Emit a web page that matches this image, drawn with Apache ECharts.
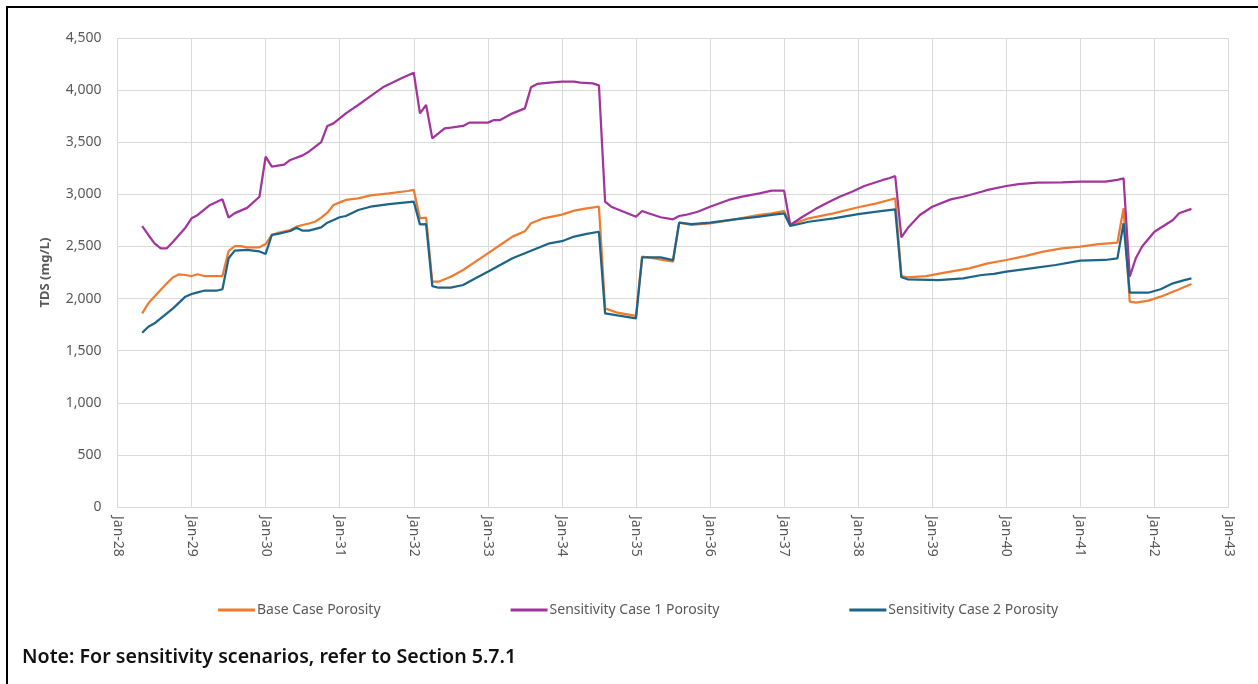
<!DOCTYPE html>
<html>
<head>
<meta charset="utf-8">
<script src="https://cdn.jsdelivr.net/npm/echarts@6/dist/echarts.min.js"></script>
<style>
  html, body { margin: 0; padding: 0; background: #fff; }
  #chart { position: absolute; left: 0; top: 0; width: 1258px; height: 684px; }
  #frame { position: absolute; left: 6px; top: 6px; width: 1300px; height: 700px;
           border-left: 2px solid #000; border-top: 2px solid #000; pointer-events: none; }
</style>
</head>
<body>
<div id="chart"></div>
<div id="frame"></div>
<script>
// x ticks: one per January
const years = [2028, 2029, 2030, 2031, 2032, 2033, 2034, 2035, 2036, 2037, 2038, 2039, 2040, 2041, 2042, 2043];
const seriesNames = ["Base Case Porosity", "Sensitivity Case 1 Porosity", "Sensitivity Case 2 Porosity"];
const seriesColors = ["#ef7b31", "#a2359d", "#1c6587"];

// TDS (mg/L), [month, value]
const baseCase = [
  ["2028-05", 1858], ["2028-06", 1954], ["2028-07", 2020], ["2028-09", 2146], ["2028-10", 2204],
  ["2028-11", 2233], ["2028-12", 2226], ["2029-01", 2216], ["2029-02", 2233], ["2029-03", 2216],
  ["2029-06", 2216], ["2029-07", 2456], ["2029-08", 2504], ["2029-09", 2504], ["2029-10", 2492],
  ["2029-12", 2492], ["2030-01", 2523], ["2030-02", 2610], ["2030-03", 2630], ["2030-05", 2658],
  ["2030-06", 2690], ["2030-07", 2706], ["2030-08", 2720], ["2030-09", 2737], ["2030-10", 2776],
  ["2030-11", 2824], ["2030-12", 2898], ["2031-01", 2923], ["2031-02", 2946], ["2031-04", 2962],
  ["2031-06", 2990], ["2031-09", 3010], ["2031-12", 3032], ["2032-01", 3042], ["2032-02", 2770],
  ["2032-03", 2776], ["2032-04", 2162], ["2032-05", 2162], ["2032-07", 2210], ["2032-09", 2274],
  ["2032-11", 2354], ["2033-01", 2434], ["2033-03", 2514], ["2033-05", 2594], ["2033-07", 2645],
  ["2033-08", 2722], ["2033-10", 2770], ["2034-01", 2806], ["2034-03", 2843], ["2034-05", 2866],
  ["2034-07", 2881], ["2034-08", 1906], ["2034-10", 1864], ["2035-01", 1833], ["2035-02", 2402],
  ["2035-03", 2396], ["2035-07", 2354], ["2035-08", 2728], ["2035-10", 2706], ["2036-01", 2722],
  ["2036-05", 2760], ["2036-09", 2802], ["2036-11", 2818], ["2037-01", 2840], ["2037-02", 2706],
  ["2037-05", 2770], ["2037-09", 2818], ["2038-01", 2876], ["2038-04", 2914], ["2038-06", 2946],
  ["2038-07", 2962], ["2038-08", 2216], ["2038-09", 2204], ["2038-12", 2216], ["2039-03", 2248],
  ["2039-07", 2290], ["2039-10", 2338], ["2040-01", 2370], ["2040-04", 2408], ["2040-07", 2450],
  ["2040-10", 2482], ["2041-01", 2498], ["2041-04", 2523], ["2041-07", 2536], ["2041-08", 2866],
  ["2041-09", 1970], ["2041-10", 1960], ["2041-12", 1980], ["2042-02", 2018], ["2042-05", 2089],
  ["2042-07", 2140]
];

const sensCase1 = [
  ["2028-05", 2696], ["2028-06", 2610], ["2028-07", 2530], ["2028-08", 2482], ["2028-09", 2482],
  ["2028-10", 2546], ["2028-12", 2680], ["2029-01", 2770], ["2029-02", 2802], ["2029-04", 2898],
  ["2029-06", 2952], ["2029-07", 2776], ["2029-08", 2820], ["2029-10", 2870], ["2029-12", 2977],
  ["2030-01", 3361], ["2030-02", 3265], ["2030-04", 3284], ["2030-05", 3330], ["2030-07", 3374],
  ["2030-08", 3409], ["2030-10", 3500], ["2030-11", 3656], ["2030-12", 3681], ["2031-02", 3777],
  ["2031-04", 3857], ["2031-06", 3943], ["2031-08", 4027], ["2031-11", 4113], ["2032-01", 4167],
  ["2032-02", 3777], ["2032-03", 3857], ["2032-04", 3538], ["2032-06", 3634], ["2032-07", 3640],
  ["2032-09", 3656], ["2032-10", 3688], ["2033-01", 3688], ["2033-02", 3713], ["2033-03", 3713],
  ["2033-05", 3777], ["2033-07", 3825], ["2033-08", 4027], ["2033-09", 4059], ["2033-11", 4071],
  ["2034-01", 4081], ["2034-03", 4081], ["2034-04", 4071], ["2034-06", 4065], ["2034-07", 4046],
  ["2034-08", 2930], ["2034-09", 2881], ["2034-11", 2833], ["2035-01", 2785], ["2035-02", 2840],
  ["2035-03", 2818], ["2035-05", 2780], ["2035-07", 2760], ["2035-08", 2792], ["2035-09", 2802],
  ["2035-11", 2833], ["2036-01", 2881], ["2036-04", 2946], ["2036-06", 2975], ["2036-09", 3010],
  ["2036-11", 3035], ["2037-01", 3035], ["2037-02", 2706], ["2037-04", 2785], ["2037-06", 2856],
  ["2037-08", 2920], ["2037-10", 2977], ["2037-12", 3025], ["2038-02", 3080], ["2038-05", 3138],
  ["2038-06", 3154], ["2038-07", 3176], ["2038-08", 2588], ["2038-09", 2674], ["2038-11", 2802],
  ["2039-01", 2881], ["2039-04", 2952], ["2039-06", 2977], ["2039-09", 3025], ["2039-10", 3042],
  ["2040-01", 3080], ["2040-03", 3099], ["2040-06", 3112], ["2040-10", 3115], ["2041-01", 3122],
  ["2041-05", 3122], ["2041-07", 3138], ["2041-08", 3154], ["2041-09", 2210], ["2041-10", 2390],
  ["2041-11", 2500], ["2042-01", 2641], ["2042-04", 2754], ["2042-05", 2818], ["2042-07", 2860]
];

const sensCase2 = [
  ["2028-05", 1672], ["2028-06", 1730], ["2028-07", 1762], ["2028-08", 1810], ["2028-10", 1906],
  ["2028-12", 2018], ["2029-01", 2044], ["2029-02", 2060], ["2029-03", 2075], ["2029-05", 2075],
  ["2029-06", 2089], ["2029-07", 2386], ["2029-08", 2460], ["2029-10", 2466], ["2029-12", 2452],
  ["2030-01", 2428], ["2030-02", 2610], ["2030-03", 2620], ["2030-05", 2648], ["2030-06", 2680],
  ["2030-07", 2651], ["2030-08", 2651], ["2030-10", 2683], ["2030-11", 2728], ["2031-01", 2780],
  ["2031-02", 2792], ["2031-04", 2850], ["2031-06", 2881], ["2031-09", 2907], ["2032-01", 2930],
  ["2032-02", 2712], ["2032-03", 2715], ["2032-04", 2120], ["2032-05", 2104], ["2032-07", 2104],
  ["2032-09", 2130], ["2032-11", 2194], ["2033-01", 2258], ["2033-03", 2322], ["2033-05", 2386],
  ["2033-07", 2434], ["2033-09", 2482], ["2033-11", 2530], ["2034-01", 2550], ["2034-03", 2595],
  ["2034-05", 2620], ["2034-07", 2641], ["2034-08", 1858], ["2034-10", 1838], ["2035-01", 1810],
  ["2035-02", 2396], ["2035-05", 2396], ["2035-07", 2368], ["2035-08", 2728], ["2035-10", 2715],
  ["2036-01", 2728], ["2036-05", 2760], ["2036-09", 2786], ["2036-11", 2802], ["2037-01", 2818],
  ["2037-02", 2696], ["2037-05", 2737], ["2037-09", 2770], ["2038-01", 2811], ["2038-04", 2833],
  ["2038-07", 2856], ["2038-08", 2204], ["2038-09", 2185], ["2039-02", 2178], ["2039-06", 2194],
  ["2039-09", 2226], ["2039-11", 2236], ["2040-01", 2258], ["2040-05", 2290], ["2040-09", 2322],
  ["2041-01", 2363], ["2041-05", 2370], ["2041-07", 2386], ["2041-08", 2722], ["2041-09", 2056],
  ["2041-12", 2056], ["2042-02", 2089], ["2042-04", 2146], ["2042-06", 2180], ["2042-07", 2194]
];

const yTicks = [0, 500, 1000, 1500, 2000, 2500, 3000, 3500, 4000, 4500];
const noteText = "Note: For sensitivity scenarios, refer to Section 5.7.1";

// "2031-04" -> 2031.25
const toYear = (s) => {
  const [y, m] = s.split("-").map(Number);
  return y + (m - 1) / 12;
};

const labelFont = "'Noto Sans', 'Open Sans', sans-serif";

const chart = echarts.init(document.getElementById("chart"), null, { renderer: "canvas" });

chart.setOption({
  animation: false,
  backgroundColor: "#fff",
  color: seriesColors,
  grid: { left: 117.5, right: 29.5, top: 38, bottom: 177, containLabel: false },
  legend: {
    data: seriesNames,
    left: 213,
    top: 598,
    icon: "rect",
    itemWidth: 37,
    itemHeight: 3,
    itemGap: 130,
    textStyle: { color: "#595959", fontSize: 14, fontFamily: labelFont, padding: [0, 0, 0, -3] }
  },
  xAxis: {
    type: "value",
    min: years[0],
    max: years[years.length - 1],
    interval: 1,
    axisLine: { lineStyle: { color: "#d9d9d9", width: 1 } },
    axisTick: { show: false },
    splitLine: { show: true, lineStyle: { color: "#d9d9d9", width: 1 } },
    axisLabel: {
      rotate: -90,
      margin: 9,
      color: "#595959",
      fontSize: 14,
      fontFamily: labelFont,
      formatter: (v) => "Jan-" + String(v).slice(2)
    }
  },
  yAxis: {
    type: "value",
    min: yTicks[0],
    max: yTicks[yTicks.length - 1],
    interval: 500,
    name: "TDS (mg/L)",
    nameLocation: "middle",
    nameGap: 66,
    nameTextStyle: { color: "#595959", fontSize: 13, fontWeight: "bold", fontFamily: labelFont },
    axisLine: { show: false },
    axisTick: { show: false },
    splitLine: { lineStyle: { color: "#d9d9d9", width: 1 } },
    axisLabel: {
      margin: 16,
      color: "#595959",
      fontSize: 14,
      fontFamily: labelFont,
      formatter: (v) => v.toLocaleString("en-US")
    }
  },
  graphic: [{
    type: "text",
    left: 22,
    top: 647,
    style: { text: noteText, fill: "#111", fontSize: 19.6, fontWeight: 600, fontFamily: labelFont }
  }],
  series: [baseCase, sensCase1, sensCase2].map((rows, i) => ({
    name: seriesNames[i],
    type: "line",
    showSymbol: false,
    symbol: "none",
    lineStyle: { width: 2.25, color: seriesColors[i] },
    itemStyle: { color: seriesColors[i] },
    data: rows.map(([d, v]) => [toYear(d), v])
  }))
});
</script>
</body>
</html>
